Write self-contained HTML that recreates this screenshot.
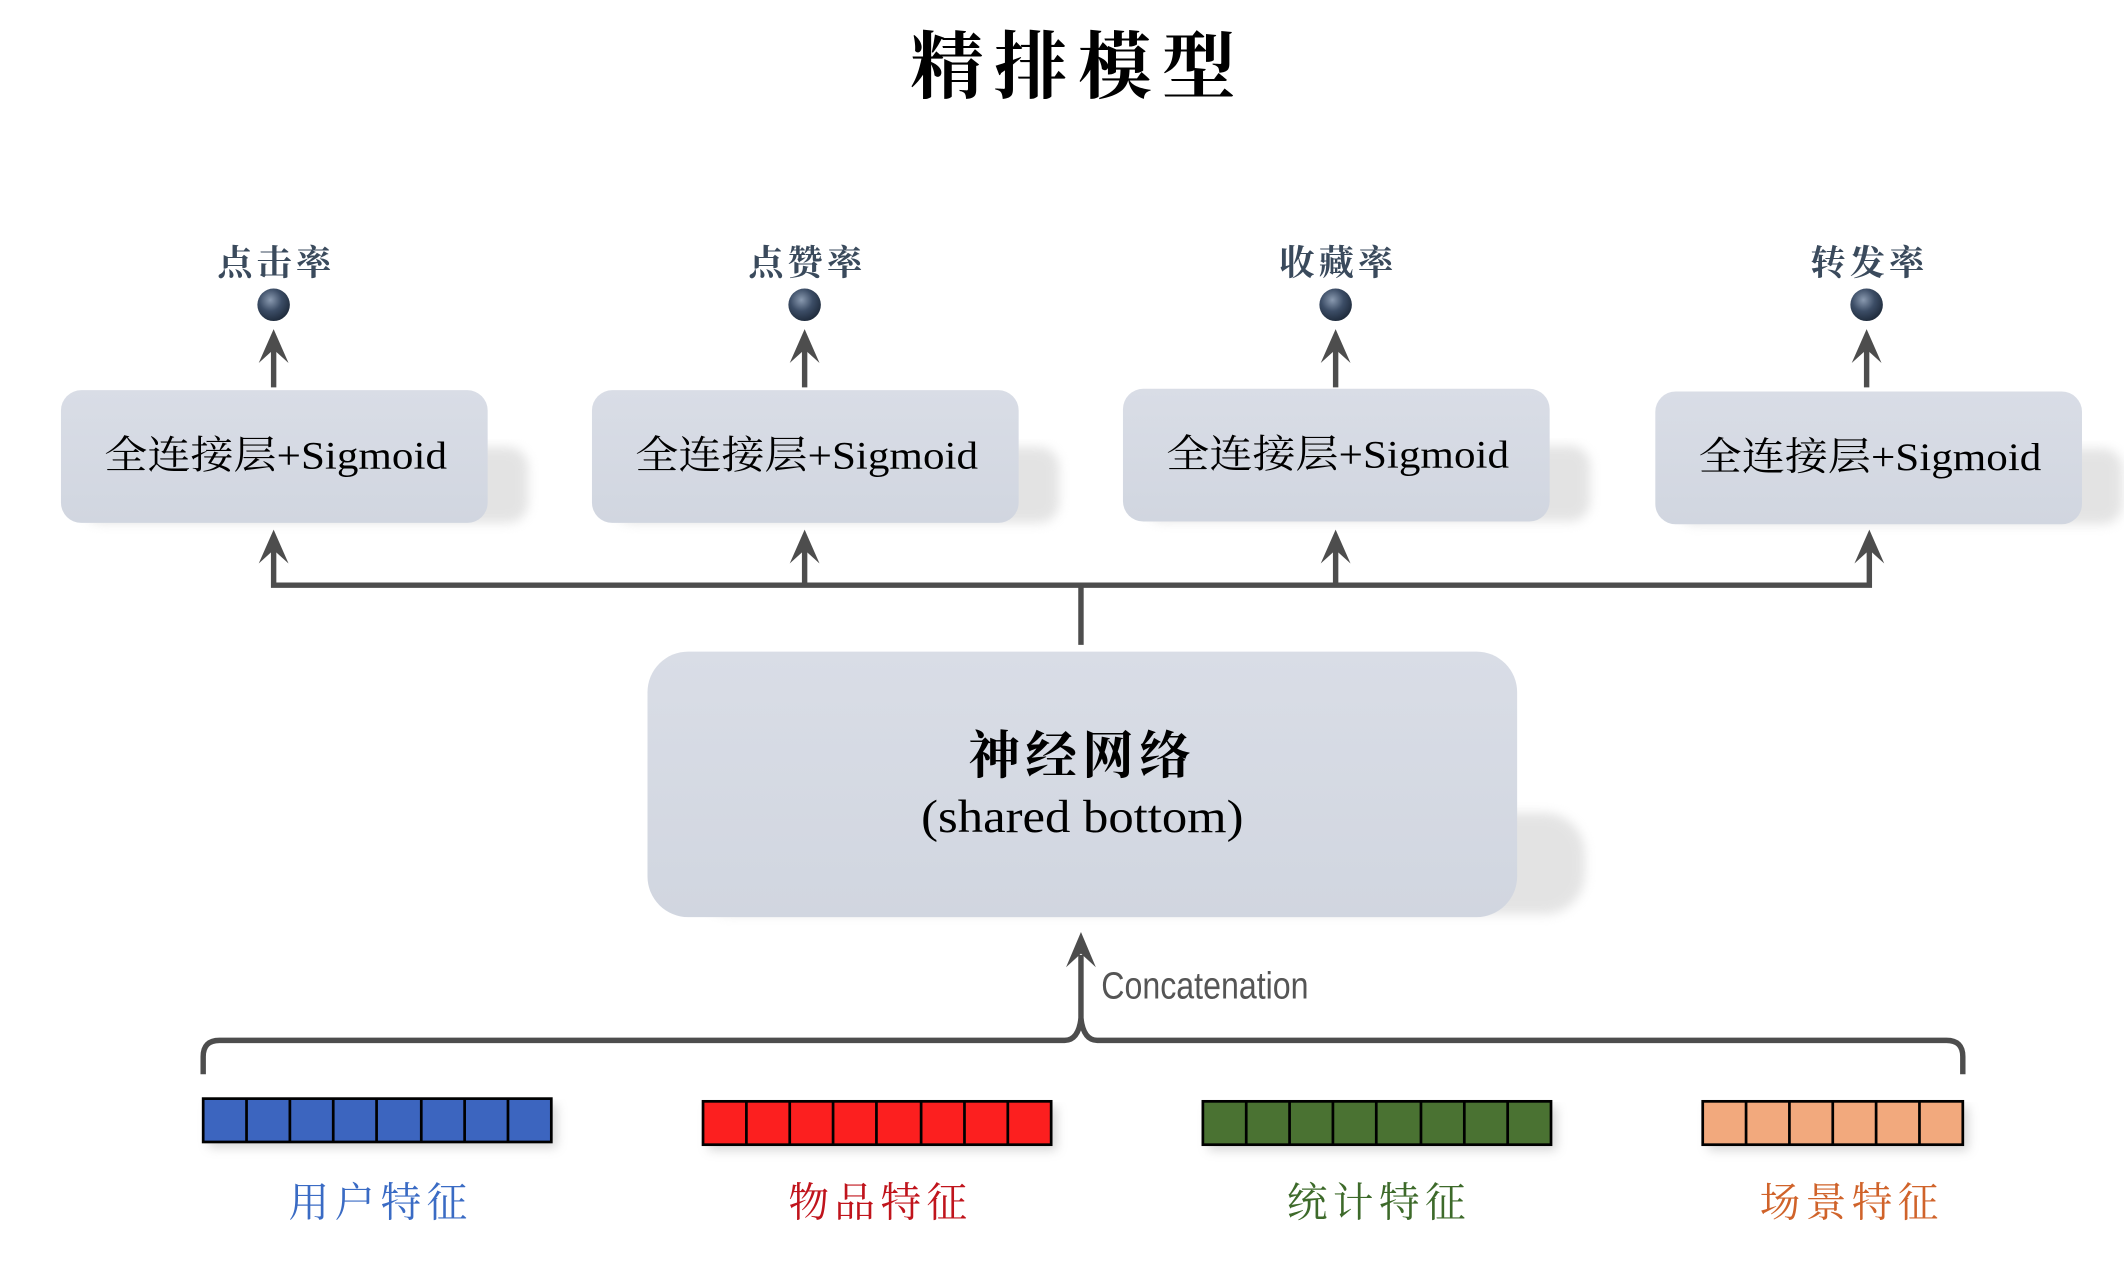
<!DOCTYPE html>
<html><head><meta charset="utf-8"><style>
html,body{margin:0;padding:0;background:#fff;}
svg{display:block;}
</style></head><body>
<svg width="2124" height="1262" viewBox="0 0 1568 931.6" preserveAspectRatio="none" xmlns="http://www.w3.org/2000/svg">
<defs>
<radialGradient id="ball" cx="0.4" cy="0.35" r="0.7">
<stop offset="0" stop-color="#8a9ab0"/><stop offset="0.5" stop-color="#3c4d66"/><stop offset="1" stop-color="#1c2838"/>
</radialGradient>
<linearGradient id="box" x1="0" y1="0" x2="0" y2="1">
<stop offset="0" stop-color="#d9dde6"/><stop offset="1" stop-color="#d1d6e0"/>
</linearGradient>
<filter id="sh" x="-10%" y="-10%" width="130%" height="140%"><feGaussianBlur stdDeviation="4"/></filter>
</defs>
<g font-family="'Liberation Serif','Noto Serif CJK SC',serif">
<text x="796" y="68" font-size="54" font-weight="bold" text-anchor="middle" letter-spacing="8" fill="#000">精排模型</text>

<g font-size="26" font-weight="bold" fill="#3a4a5c" text-anchor="middle" letter-spacing="3">
<text x="204" y="203">点击率</text><text x="596" y="203">点赞率</text>
<text x="988" y="203">收藏率</text><text x="1380" y="203">转发率</text>
</g>
<g fill="url(#ball)">
<circle cx="202" cy="225" r="12"/><circle cx="594" cy="225" r="12"/>
<circle cx="986" cy="225" r="12"/><circle cx="1378" cy="225" r="12"/>
</g>

<g stroke="#4d4d4d" stroke-width="4" fill="#4d4d4d">
<line x1="202" y1="286" x2="202" y2="250"/><line x1="594" y1="286" x2="594" y2="250"/>
<line x1="986" y1="286" x2="986" y2="250"/><line x1="1378" y1="286" x2="1378" y2="250"/>
</g>
<g fill="#4d4d4d">
<path d="M202 243 L191 268 L202 258 L213 268Z"/><path d="M594 243 L583 268 L594 258 L605 268Z"/>
<path d="M986 243 L975 268 L986 258 L997 268Z"/><path d="M1378 243 L1367 268 L1378 258 L1389 268Z"/>
</g>

<g>
<rect x="60" y="330" width="330" height="56" rx="15" fill="#bbb" opacity="0.4" filter="url(#sh)"/>
<rect x="452" y="330" width="330" height="56" rx="15" fill="#bbb" opacity="0.4" filter="url(#sh)"/>
<rect x="844" y="329" width="330" height="56" rx="15" fill="#bbb" opacity="0.4" filter="url(#sh)"/>
<rect x="1237" y="331" width="330" height="56" rx="15" fill="#bbb" opacity="0.4" filter="url(#sh)"/>
<rect x="45" y="288" width="315" height="98" rx="15" fill="url(#box)"/>
<rect x="437" y="288" width="315" height="98" rx="15" fill="url(#box)"/>
<rect x="829" y="287" width="315" height="98" rx="15" fill="url(#box)"/>
<rect x="1222" y="289" width="315" height="98" rx="15" fill="url(#box)"/>
</g>
<g font-size="29" fill="#000">
<text x="77" y="346" textLength="253" lengthAdjust="spacingAndGlyphs">全连接层+Sigmoid</text>
<text x="469" y="346" textLength="253" lengthAdjust="spacingAndGlyphs">全连接层+Sigmoid</text>
<text x="861" y="345" textLength="253" lengthAdjust="spacingAndGlyphs">全连接层+Sigmoid</text>
<text x="1254" y="347" textLength="253" lengthAdjust="spacingAndGlyphs">全连接层+Sigmoid</text>
</g>

<g stroke="#4d4d4d" stroke-width="4" fill="none">
<polyline points="202,405 202,432 1380,432 1380,405"/>
<line x1="594" y1="432" x2="594" y2="405"/><line x1="986" y1="432" x2="986" y2="405"/>
<line x1="798" y1="432" x2="798" y2="476"/>
</g>
<g fill="#4d4d4d">
<path d="M202 391 L191 416 L202 406 L213 416Z"/><path d="M594 391 L583 416 L594 406 L605 416Z"/>
<path d="M986 391 L975 416 L986 406 L997 416Z"/><path d="M1380 391 L1369 416 L1380 406 L1391 416Z"/>
</g>

<rect x="510" y="600" width="660" height="75" rx="30" fill="#bbb" opacity="0.4" filter="url(#sh)"/>
<rect x="478" y="481" width="642" height="196" rx="30" fill="url(#box)"/>
<text x="799" y="571" font-size="38" font-weight="bold" text-anchor="middle" letter-spacing="4" fill="#000">神经网络</text>
<text x="680" y="614" font-size="34" fill="#000" textLength="238" lengthAdjust="spacingAndGlyphs">(shared bottom)</text>

<line x1="798" y1="760" x2="798" y2="705" stroke="#4d4d4d" stroke-width="4"/>
<path d="M798 688 L787 714 L798 704 L809 714Z" fill="#4d4d4d"/>
<text x="813" y="737" font-family="'Liberation Sans',sans-serif" font-size="28" fill="#555" textLength="153" lengthAdjust="spacingAndGlyphs">Concatenation</text>
<path d="M150 793 L150 780 Q150 768 162 768 L786 768 Q796 768 798 752 Q800 768 810 768 L1437 768 Q1449 768 1449 780 L1449 793" stroke="#4d4d4d" stroke-width="4" fill="none"/>

<g stroke="#000" stroke-width="2">
<rect x="154" y="815" width="257" height="32" fill="#999" opacity="0.4" stroke="none" filter="url(#sh)"/>
<rect x="523" y="817" width="257" height="32" fill="#999" opacity="0.4" stroke="none" filter="url(#sh)"/>
<rect x="892" y="817" width="257" height="32" fill="#999" opacity="0.4" stroke="none" filter="url(#sh)"/>
<rect x="1261" y="817" width="192" height="32" fill="#999" opacity="0.4" stroke="none" filter="url(#sh)"/>
<rect x="150" y="811" width="257" height="32" fill="#3c65bf"/>
<rect x="519" y="813" width="257" height="32" fill="#fc1f1f"/>
<rect x="888" y="813" width="257" height="32" fill="#4a7232"/>
<rect x="1257" y="813" width="192" height="32" fill="#f2a97d"/>
<path d="M182 811v32M214 811v32M246 811v32M278 811v32M311 811v32M343 811v32M375 811v32"/>
<path d="M551 813v32M583 813v32M615 813v32M647 813v32M680 813v32M712 813v32M744 813v32"/>
<path d="M920 813v32M952 813v32M984 813v32M1016 813v32M1049 813v32M1081 813v32M1113 813v32"/>
<path d="M1289 813v32M1321 813v32M1353 813v32M1385 813v32M1417 813v32"/>
</g>
<g font-size="30" text-anchor="middle" letter-spacing="4">
<text x="281" y="898" fill="#3a6bc4">用户特征</text>
<text x="650" y="898" fill="#c0141c">物品特征</text>
<text x="1018" y="898" fill="#3d6a2a">统计特征</text>
<text x="1367" y="898" fill="#d0632a">场景特征</text>
</g>
</g>
</svg>
</body></html>
